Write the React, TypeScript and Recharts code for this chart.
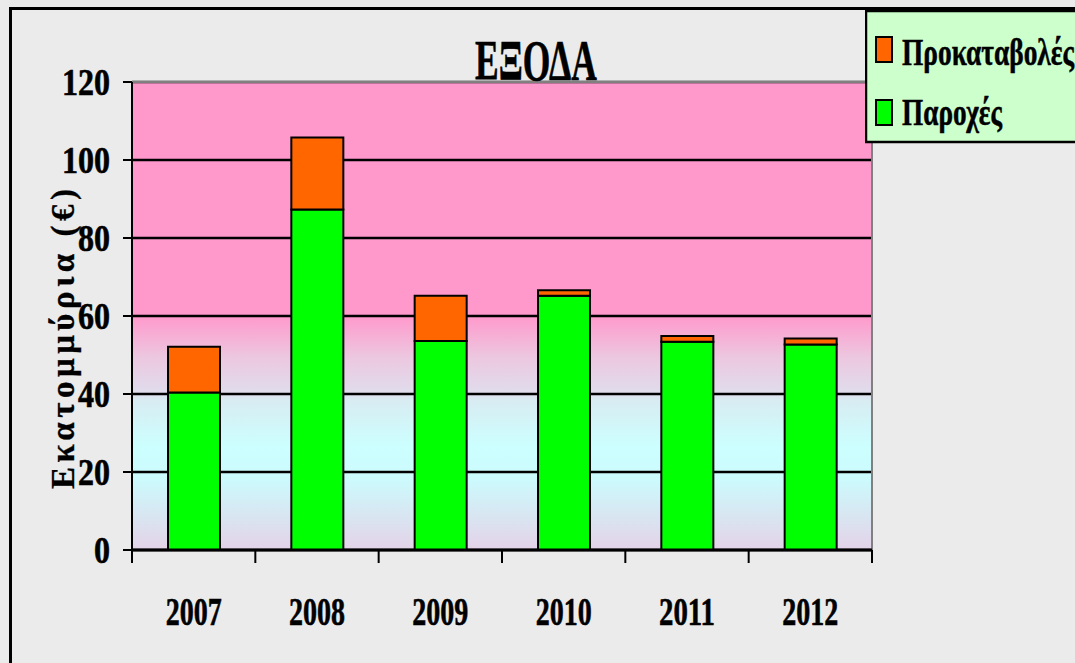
import React from 'react';
import { BarChart, Bar, XAxis, YAxis, CartesianGrid, Legend, ReferenceArea, Label } from 'recharts';

const years = ['2007', '2008', '2009', '2010', '2011', '2012'];
const paroches = [40.4, 87.3, 53.6, 65.2, 53.4, 52.7];
const prokataboles = [11.7, 18.5, 11.6, 1.4, 1.5, 1.5];
const yTicks = [0, 20, 40, 60, 80, 100, 120];

const data = years.map((year, i) => ({
  year,
  paroches: paroches[i],
  prokataboles: prokataboles[i],
}));

const W = 1075;
const H = 663;
const margin = { top: 82, right: 203, bottom: 33, left: 32 };
const Y_AXIS_W = 100;
const X_AXIS_H = 80;
const PLOT_W = W - margin.left - margin.right - Y_AXIS_W;
const BAND = PLOT_W / years.length;
const FONT = "'Liberation Serif', 'Times New Roman', serif";

// the reference text is tall and narrow, so each label is squeezed to its measured width
const YTick = ({ x, y, payload }: any) => {
  const s = String(payload.value);
  return (
    <text x={x} y={y} dy={13} textAnchor="end" fontFamily={FONT} fontWeight="bold" fontSize={37}
      fill="#000" stroke="#000" strokeWidth={0.6} textLength={16 * s.length} lengthAdjust="spacingAndGlyphs">
      {s}
    </text>
  );
};

const XTick = ({ x, y, payload, index }: any) => (
  <g>
    <line x1={x - BAND / 2} x2={x - BAND / 2} y1={y} y2={y + 13} stroke="#000" strokeWidth={2} />
    {index === years.length - 1 && (
      <line x1={x + BAND / 2} x2={x + BAND / 2} y1={y} y2={y + 13} stroke="#000" strokeWidth={2} />
    )}
    <text x={x} y={y + 75} textAnchor="middle" fontFamily={FONT} fontWeight="bold" fontSize={40}
      fill="#000" stroke="#000" strokeWidth={0.6} textLength={56} lengthAdjust="spacingAndGlyphs">
      {payload.value}
    </text>
  </g>
);

const YLabel = ({ viewBox }: any) => {
  const cx = viewBox.x + 42;
  const cy = viewBox.y + 257;
  return (
    <text x={cx} y={cy} transform={`rotate(-90, ${cx}, ${cy})`} textAnchor="middle" fontFamily={FONT}
      fontWeight="bold" fontSize={33} fill="#000" stroke="#000" strokeWidth={0.3}
      textLength={300} lengthAdjust="spacing">
      Εκατομμύρια (€)
    </text>
  );
};

const legendItems = [
  { name: 'Προκαταβολές', color: '#ff6600', len: 172 },
  { name: 'Παροχές', color: '#00ff00', len: 100 },
];

const LegendBox = () => (
  <svg width={215} height={134} style={{ display: 'block' }}>
    <rect x={1} y={1} width={240} height={131} fill="#ccffcc" stroke="#000" strokeWidth={2.5} />
    {legendItems.map((it, i) => (
      <g key={it.name}>
        <rect x={11} y={27 + i * 63} width={16} height={25} fill={it.color} stroke="#000" strokeWidth={2} />
        <text x={37} y={55 + i * 60} fontFamily={FONT} fontWeight="bold" fontSize={38} fill="#000"
          stroke="#000" strokeWidth={0.5} textLength={it.len} lengthAdjust="spacingAndGlyphs">
          {it.name}
        </text>
      </g>
    ))}
  </svg>
);

export default function App() {
  return (
    <div style={{ position: 'absolute', left: 0, top: 0, width: W, height: H, overflow: 'hidden', background: '#ebebeb' }}>
      <div style={{ position: 'absolute', left: 9, top: 7, width: W, height: H, borderLeft: '3px solid #000', borderTop: '3px solid #000' }} />
      <BarChart width={W} height={H} data={data} margin={margin}>
        <defs>
          <linearGradient id="plotBg" x1="0" y1="0" x2="0" y2="1">
            <stop offset="0" stopColor="#ff99cc" />
            <stop offset="0.5" stopColor="#ff99cc" />
            <stop offset="0.59" stopColor="#ecc8e0" />
            <stop offset="0.662" stopColor="#e0dcec" />
            <stop offset="0.68" stopColor="#d8ecf2" />
            <stop offset="0.78" stopColor="#ccffff" />
            <stop offset="0.85" stopColor="#ccfafc" />
            <stop offset="1" stopColor="#e4d2e8" />
          </linearGradient>
        </defs>
        <CartesianGrid vertical={false} stroke="#000" strokeWidth={2.5} fill="url(#plotBg)" fillOpacity={1} />
        <ReferenceArea y1={0} y2={120} fill="none" stroke="#808080" strokeWidth={2} ifOverflow="visible" />
        <XAxis dataKey="year" height={X_AXIS_H} axisLine={{ stroke: '#000', strokeWidth: 3 }} tickLine={false}
          tickSize={0} tickMargin={0} tick={<XTick />} interval={0} />
        <YAxis width={Y_AXIS_W} domain={[0, 120]} ticks={yTicks} interval={0}
          axisLine={{ stroke: '#000', strokeWidth: 2 }} tickLine={{ stroke: '#000', strokeWidth: 2 }}
          tickSize={9} tickMargin={13} tick={<YTick />}>
          <Label content={<YLabel />} />
        </YAxis>
        <Legend layout="horizontal" verticalAlign="middle" content={<LegendBox />}
          wrapperStyle={{ left: 865, top: 10, width: 215, height: 134 }} />
        <Bar dataKey="paroches" name="Παροχές" stackId="a" fill="#00ff00" stroke="#000" strokeWidth={2}
          barSize={52} isAnimationActive={false} />
        <Bar dataKey="prokataboles" name="Προκαταβολές" stackId="a" fill="#ff6600" stroke="#000" strokeWidth={2}
          barSize={52} isAnimationActive={false} />
      </BarChart>
      <svg width={W} height={90} style={{ position: 'absolute', left: 0, top: 0, pointerEvents: 'none' }}>
        <text x={536} y={80} textAnchor="middle" fontFamily={FONT} fontWeight="bold" fontSize={56} fill="#000"
          stroke="#000" strokeWidth={0.6} textLength={122} lengthAdjust="spacingAndGlyphs">
          ΕΞΟΔΑ
        </text>
      </svg>
    </div>
  );
}
